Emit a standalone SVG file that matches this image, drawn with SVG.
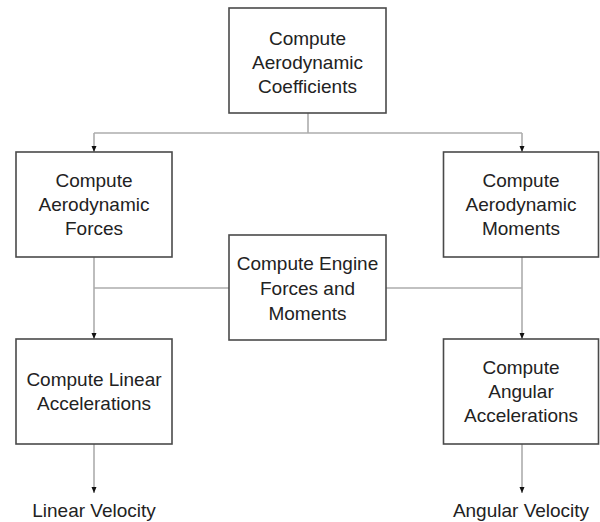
<svg xmlns="http://www.w3.org/2000/svg" width="600" height="522" viewBox="0 0 600 522">
  <style>
    .box { fill: #ffffff; stroke: #4a4a4a; stroke-width: 1.6; }
    .lbl { font-family: "Liberation Sans", Arial, sans-serif; font-size: 19px; fill: #222222; text-anchor: middle; }
    .wire { fill: none; stroke: #adadad; stroke-width: 1.6; }
  </style>
  <defs>
    <marker id="arrow" viewBox="0 0 6 5" refX="6" refY="2.5" markerWidth="6" markerHeight="5.5" markerUnits="userSpaceOnUse" orient="auto">
      <path d="M0,0 L6,2.5 L0,5 Z" fill="#111111"/>
    </marker>
  </defs>
  <rect width="600" height="522" fill="#ffffff"/>

  <g id="connectors">
    <!-- coefficients feed both aerodynamic blocks -->
    <path class="wire" d="M308,113 V133"/>
    <path class="wire" d="M94,133 H522"/>
    <path class="wire" d="M94,133 V152" marker-end="url(#arrow)"/>
    <path class="wire" d="M522,133 V152" marker-end="url(#arrow)"/>
    <!-- forces / moments to accelerations -->
    <path class="wire" d="M94,257 V339" marker-end="url(#arrow)"/>
    <path class="wire" d="M522,257 V339" marker-end="url(#arrow)"/>
    <!-- engine contributions -->
    <path class="wire" d="M229,288 H94"/>
    <path class="wire" d="M386,288 H522"/>
    <!-- outputs -->
    <path class="wire" d="M94,444 V493" marker-end="url(#arrow)"/>
    <path class="wire" d="M522,444 V493" marker-end="url(#arrow)"/>
  </g>

  <g id="aero-coefficients">
    <rect class="box" x="229" y="8" width="157" height="105"/>
    <text class="lbl" x="307.5" y="44.5">Compute</text>
    <text class="lbl" x="307.5" y="68.5">Aerodynamic</text>
    <text class="lbl" x="307.5" y="92.5">Coefficients</text>
  </g>

  <g id="aero-forces">
    <rect class="box" x="16" y="152" width="156" height="105"/>
    <text class="lbl" x="94" y="187">Compute</text>
    <text class="lbl" x="94" y="211">Aerodynamic</text>
    <text class="lbl" x="94" y="235">Forces</text>
  </g>

  <g id="aero-moments">
    <rect class="box" x="443.5" y="152" width="155" height="105"/>
    <text class="lbl" x="521" y="187">Compute</text>
    <text class="lbl" x="521" y="211">Aerodynamic</text>
    <text class="lbl" x="521" y="235">Moments</text>
  </g>

  <g id="engine">
    <rect class="box" x="229" y="235" width="157" height="105"/>
    <text class="lbl" x="307.5" y="270">Compute Engine</text>
    <text class="lbl" x="307.5" y="295">Forces and</text>
    <text class="lbl" x="307.5" y="320">Moments</text>
  </g>

  <g id="linear-accel">
    <rect class="box" x="16" y="339" width="156" height="105"/>
    <text class="lbl" x="94" y="386">Compute Linear</text>
    <text class="lbl" x="94" y="410">Accelerations</text>
  </g>

  <g id="angular-accel">
    <rect class="box" x="443.5" y="339" width="155" height="105"/>
    <text class="lbl" x="521" y="374">Compute</text>
    <text class="lbl" x="521" y="398">Angular</text>
    <text class="lbl" x="521" y="422">Accelerations</text>
  </g>

  <g id="linear-velocity">
    <text class="lbl" x="94" y="516.5">Linear Velocity</text>
  </g>

  <g id="angular-velocity">
    <text class="lbl" x="521" y="516.5">Angular Velocity</text>
  </g>
</svg>
